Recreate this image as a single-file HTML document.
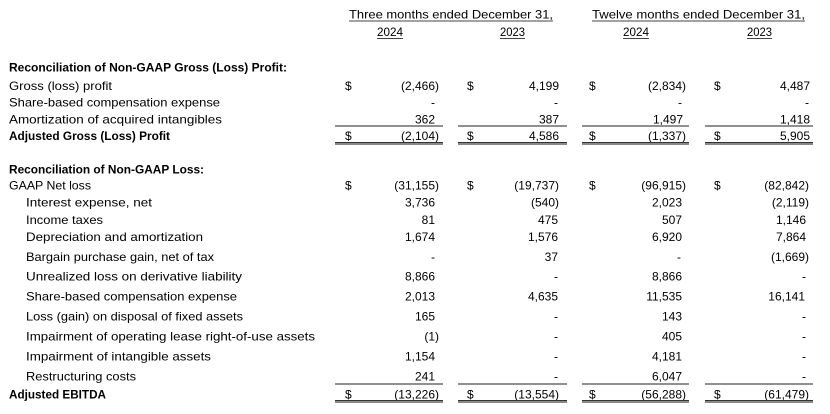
<!DOCTYPE html>
<html>
<head>
<meta charset="utf-8">
<style>
  html, body { margin:0; padding:0; background:#fff; }
  svg { display:block; }
  text { font-family: "Liberation Sans", Arial, sans-serif; font-size:12px; fill:#000; }
  .b { font-weight:bold; }
  .r { text-anchor:end; }
</style>
</head>
<body>
<svg width="830" height="414" viewBox="0 0 830 414" xmlns="http://www.w3.org/2000/svg">
  <!-- Headers -->
  <text x="349" y="18.5" textLength="204" lengthAdjust="spacingAndGlyphs">Three months ended December 31,</text>
  <rect x="349" y="20.5" width="204" height="1" fill="#444"/>
  <text x="592" y="18.5" textLength="213" lengthAdjust="spacingAndGlyphs">Twelve months ended December 31,</text>
  <rect x="592" y="20.5" width="213" height="1" fill="#444"/>

  <text x="377" y="36" textLength="26" lengthAdjust="spacingAndGlyphs">2024</text>
  <rect x="377" y="38" width="26" height="1" fill="#444"/>
  <text x="500" y="36" textLength="25" lengthAdjust="spacingAndGlyphs">2023</text>
  <rect x="500" y="38" width="25" height="1" fill="#444"/>
  <text x="623" y="36" textLength="26" lengthAdjust="spacingAndGlyphs">2024</text>
  <rect x="623" y="38" width="26" height="1" fill="#444"/>
  <text x="747" y="36" textLength="25" lengthAdjust="spacingAndGlyphs">2023</text>
  <rect x="747" y="38" width="25" height="1" fill="#444"/>

  <!-- Section 1 -->
  <text class="b" x="9" y="71.5" textLength="278" lengthAdjust="spacingAndGlyphs">Reconciliation of Non-GAAP Gross (Loss) Profit:</text>

  <text x="9" y="90" textLength="103" lengthAdjust="spacingAndGlyphs">Gross (loss) profit</text>
  <text x="345" y="90">$</text><text class="r" x="439" y="90">(2,466)</text>
  <text x="467" y="90">$</text><text class="r" x="559" y="90">4,199</text>
  <text x="589" y="90">$</text><text class="r" x="686" y="90">(2,834)</text>
  <text x="714" y="90">$</text><text class="r" x="810" y="90">4,487</text>

  <text x="9" y="106.5" textLength="211" lengthAdjust="spacingAndGlyphs">Share-based compensation expense</text>
  <text class="r" x="435" y="106.5">-</text>
  <text class="r" x="558" y="106.5">-</text>
  <text class="r" x="682" y="106.5">-</text>
  <text class="r" x="809" y="106.5">-</text>

  <text x="9" y="123.3" textLength="213" lengthAdjust="spacingAndGlyphs">Amortization of acquired intangibles</text>
  <text class="r" x="435" y="123.3">362</text>
  <text class="r" x="559" y="123.3">387</text>
  <text class="r" x="683" y="123.3">1,497</text>
  <text class="r" x="810" y="123.3">1,418</text>

  <rect x="335" y="125.5" width="108" height="1" fill="#222"/>
  <rect x="458" y="125.5" width="109" height="1" fill="#222"/>
  <rect x="582" y="125.5" width="107" height="1" fill="#222"/>
  <rect x="705" y="125.5" width="108" height="1" fill="#222"/>

  <text class="b" x="9" y="140" textLength="161" lengthAdjust="spacingAndGlyphs">Adjusted Gross (Loss) Profit</text>
  <text x="345" y="140">$</text><text class="r" x="439" y="140">(2,104)</text>
  <text x="467" y="140">$</text><text class="r" x="559" y="140">4,586</text>
  <text x="589" y="140">$</text><text class="r" x="686" y="140">(1,337)</text>
  <text x="714" y="140">$</text><text class="r" x="810" y="140">5,905</text>

  <rect x="335" y="142" width="108" height="1" fill="#333"/>
  <rect x="335" y="143" width="108" height="2" fill="#888"/>
  <rect x="458" y="142" width="109" height="1" fill="#333"/>
  <rect x="458" y="143" width="109" height="2" fill="#888"/>
  <rect x="582" y="142" width="107" height="1" fill="#333"/>
  <rect x="582" y="143" width="107" height="2" fill="#888"/>
  <rect x="705" y="142" width="108" height="1" fill="#333"/>
  <rect x="705" y="143" width="108" height="2" fill="#888"/>

  <!-- Section 2 -->
  <text class="b" x="9" y="173.3" textLength="195" lengthAdjust="spacingAndGlyphs">Reconciliation of Non-GAAP Loss:</text>

  <text x="9" y="189.3" textLength="82" lengthAdjust="spacingAndGlyphs">GAAP Net loss</text>
  <text x="345" y="189.3">$</text><text class="r" x="439" y="189.3">(31,155)</text>
  <text x="467" y="189.3">$</text><text class="r" x="559" y="189.3">(19,737)</text>
  <text x="589" y="189.3">$</text><text class="r" x="686" y="189.3">(96,915)</text>
  <text x="714" y="189.3">$</text><text class="r" x="809" y="189.3">(82,842)</text>

  <text x="26" y="206.7" textLength="126" lengthAdjust="spacingAndGlyphs">Interest expense, net</text>
  <text class="r" x="435" y="206.7">3,736</text>
  <text class="r" x="559" y="206.7">(540)</text>
  <text class="r" x="682" y="206.7">2,023</text>
  <text class="r" x="809" y="206.7">(2,119)</text>

  <text x="26" y="224" textLength="77" lengthAdjust="spacingAndGlyphs">Income taxes</text>
  <text class="r" x="435" y="224">81</text>
  <text class="r" x="558" y="224">475</text>
  <text class="r" x="682" y="224">507</text>
  <text class="r" x="806" y="224">1,146</text>

  <text x="26" y="241" textLength="177" lengthAdjust="spacingAndGlyphs">Depreciation and amortization</text>
  <text class="r" x="435" y="241">1,674</text>
  <text class="r" x="558" y="241">1,576</text>
  <text class="r" x="682" y="241">6,920</text>
  <text class="r" x="806" y="241">7,864</text>

  <text x="26" y="261" textLength="188" lengthAdjust="spacingAndGlyphs">Bargain purchase gain, net of tax</text>
  <text class="r" x="435" y="261">-</text>
  <text class="r" x="558" y="261">37</text>
  <text class="r" x="681" y="261">-</text>
  <text class="r" x="809" y="261">(1,669)</text>

  <text x="26" y="280.7" textLength="216" lengthAdjust="spacingAndGlyphs">Unrealized loss on derivative liability</text>
  <text class="r" x="435" y="280.7">8,866</text>
  <text class="r" x="558" y="280.7">-</text>
  <text class="r" x="682" y="280.7">8,866</text>
  <text class="r" x="806" y="280.7">-</text>

  <text x="26" y="300.7" textLength="211" lengthAdjust="spacingAndGlyphs">Share-based compensation expense</text>
  <text class="r" x="435" y="300.7">2,013</text>
  <text class="r" x="558" y="300.7">4,635</text>
  <text class="r" x="682" y="300.7">11,535</text>
  <text class="r" x="805" y="300.7">16,141</text>

  <text x="26" y="320.7" textLength="217" lengthAdjust="spacingAndGlyphs">Loss (gain) on disposal of fixed assets</text>
  <text class="r" x="435" y="320.7">165</text>
  <text class="r" x="558" y="320.7">-</text>
  <text class="r" x="682" y="320.7">143</text>
  <text class="r" x="806" y="320.7">-</text>

  <text x="26" y="340.7" textLength="289" lengthAdjust="spacingAndGlyphs">Impairment of operating lease right-of-use assets</text>
  <text class="r" x="439" y="340.7">(1)</text>
  <text class="r" x="558" y="340.7">-</text>
  <text class="r" x="682" y="340.7">405</text>
  <text class="r" x="806" y="340.7">-</text>

  <text x="26" y="360.7" textLength="185" lengthAdjust="spacingAndGlyphs">Impairment of intangible assets</text>
  <text class="r" x="435" y="360.7">1,154</text>
  <text class="r" x="558" y="360.7">-</text>
  <text class="r" x="682" y="360.7">4,181</text>
  <text class="r" x="806" y="360.7">-</text>

  <text x="26" y="380.7" textLength="110" lengthAdjust="spacingAndGlyphs">Restructuring costs</text>
  <text class="r" x="435" y="380.7">241</text>
  <text class="r" x="558" y="380.7">-</text>
  <text class="r" x="682" y="380.7">6,047</text>
  <text class="r" x="806" y="380.7">-</text>

  <rect x="335" y="383.5" width="108" height="1" fill="#222"/>
  <rect x="458" y="383.5" width="109" height="1" fill="#222"/>
  <rect x="582" y="383.5" width="107" height="1" fill="#222"/>
  <rect x="705" y="383.5" width="108" height="1" fill="#222"/>

  <text class="b" x="9" y="398.5" textLength="97" lengthAdjust="spacingAndGlyphs">Adjusted EBITDA</text>
  <text x="345" y="398.5">$</text><text class="r" x="439" y="398.5">(13,226)</text>
  <text x="467" y="398.5">$</text><text class="r" x="559" y="398.5">(13,554)</text>
  <text x="589" y="398.5">$</text><text class="r" x="686" y="398.5">(56,288)</text>
  <text x="714" y="398.5">$</text><text class="r" x="809" y="398.5">(61,479)</text>

  <rect x="335" y="400" width="108" height="1" fill="#333"/>
  <rect x="335" y="401" width="108" height="2" fill="#888"/>
  <rect x="458" y="400" width="109" height="1" fill="#333"/>
  <rect x="458" y="401" width="109" height="2" fill="#888"/>
  <rect x="582" y="400" width="107" height="1" fill="#333"/>
  <rect x="582" y="401" width="107" height="2" fill="#888"/>
  <rect x="705" y="400" width="108" height="1" fill="#333"/>
  <rect x="705" y="401" width="108" height="2" fill="#888"/>
</svg>
</body>
</html>
